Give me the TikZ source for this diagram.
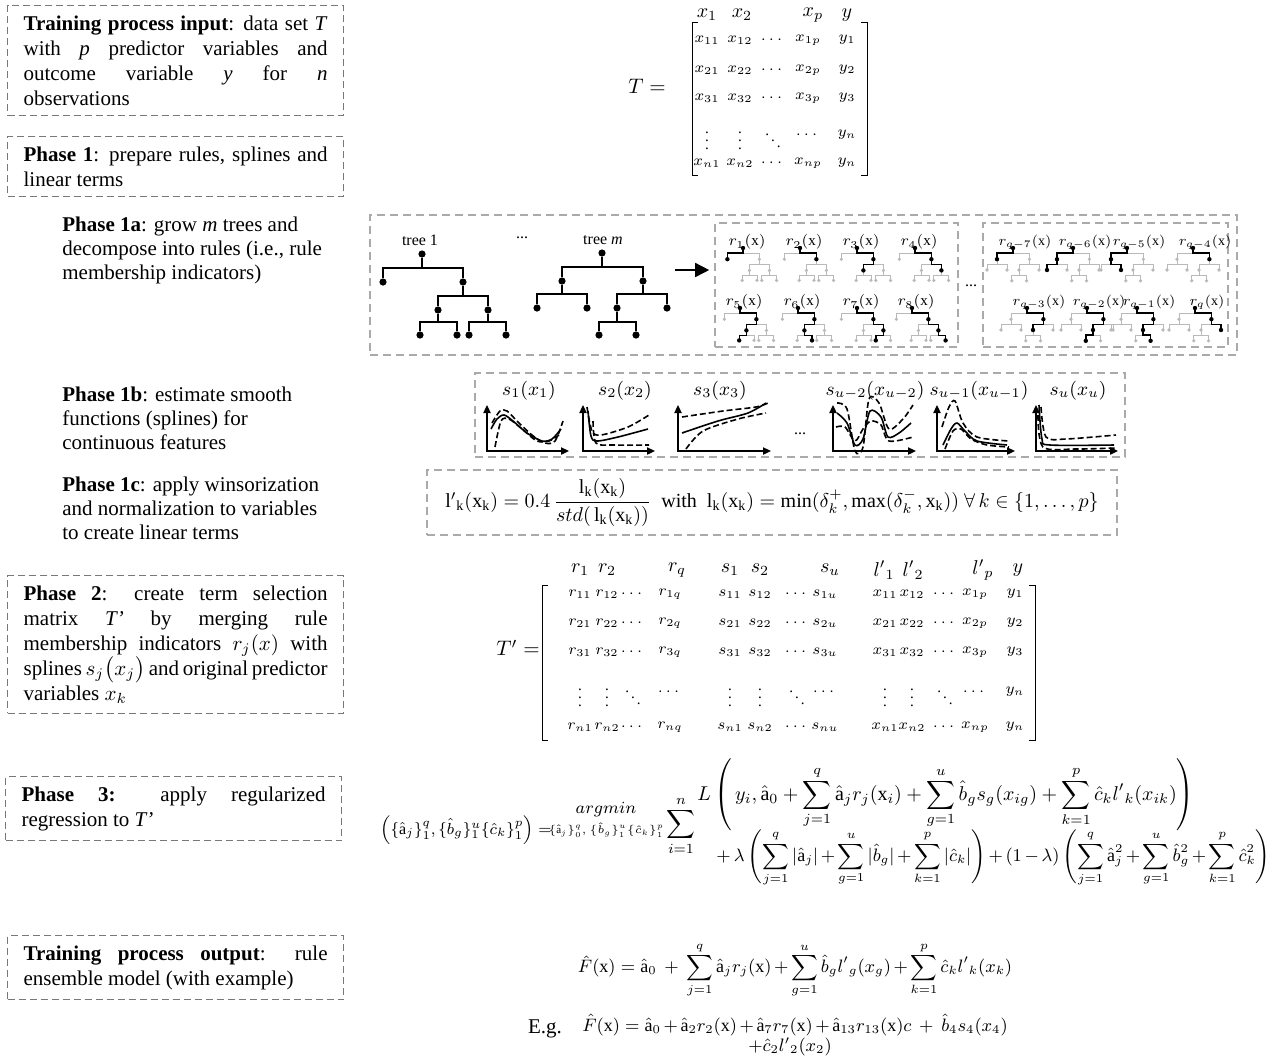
\RequirePackage{fix-cm}
\documentclass[tikz,border=0pt]{standalone}
\usepackage{amsmath}
\usepackage{fontspec}
\setmainfont{Liberation Serif}
\usetikzlibrary{arrows.meta,positioning}
\definecolor{boxgray}{RGB}{120,120,120}
\definecolor{groupgray}{RGB}{170,170,170}
\definecolor{rulegray}{RGB}{185,185,185}
\newcommand\tightmath{\medmuskip=2.5mu\relax}
\tikzset{
  phasebox/.style={draw=boxgray, line width=0.6pt, dash pattern=on 3.5pt off 2pt, anchor=north west,
    text width=152pt, align=justify, inner xsep=8pt, inner ysep=5pt, font=\fontsize{10.5}{12.5}\selectfont},
  phasetext/.style={anchor=north west, inner sep=0pt, align=left, font=\fontsize{10.5}{12}\selectfont},
  groupbox/.style={draw=groupgray, line width=0.8pt, dash pattern=on 4pt off 2.5pt, inner sep=0pt},
  leaf/.style={circle, fill=black, inner sep=0pt, minimum size=3.6pt},
  branch/.style={line width=0.6pt},
  minibranch/.style={rulegray, line width=0.5pt},
  rulestroke/.style={black, line width=0.7pt},
  rulelabel/.style={anchor=south, inner sep=0pt, font=\fontsize{7.5}{9}\selectfont},
  treelabel/.style={inner sep=0pt, font=\fontsize{8}{9.6}\selectfont},
  head/.style={inner sep=0pt, font=\fontsize{10}{12}\selectfont},
  entry/.style={inner sep=0pt, font=\fontsize{7.5}{9}\selectfont},
  formula/.style={inner sep=0pt, font=\fontsize{9}{11}\selectfont\tightmath},
  bracket/.style={line width=0.5pt},
  axis/.style={line width=0.8pt, {Triangle[length=4pt,width=3.6pt]}-{Triangle[length=4pt,width=3.6pt]}},
  spline/.style={line width=0.8pt},
  splineband/.style={line width=0.8pt, dash pattern=on 3pt off 1.5pt},
  % small copy of tree 1
  pics/ruletreeA/.style={code={
    \coordinate (-o) at (0,0);
    \coordinate (-L) at (-15.6,11.2); \coordinate (-R) at (16.4,11.2);
    \coordinate (-RL) at (6.4,22.4); \coordinate (-RR) at (26.4,22.4);
    \coordinate (-RLL) at (-0.8,32.4); \coordinate (-RLR) at (14,32.4);
    \coordinate (-RRL) at (18.8,32.4); \coordinate (-RRR) at (33.6,32.4);
    \draw[minibranch] (-o) -- ++(0,5) -| (-L) (-o) ++(0,5) -| (-R)
      (-R) -- ++(0,5) -| (-RL) (-R) ++(0,5) -| (-RR)
      (-RL) -- ++(0,5) -| (-RLL) (-RL) ++(0,5) -| (-RLR)
      (-RR) -- ++(0,5) -| (-RRL) (-RR) ++(0,5) -| (-RRR);
    \foreach \p in {o,L,R,RL,RR,RLL,RLR,RRL,RRR} \fill[rulegray] (-\p) circle (0.9pt);
  }},
  % small copy of tree m
  pics/ruletreeB/.style={code={
    \coordinate (-o) at (0,0);
    \coordinate (-L) at (-16,11.2); \coordinate (-R) at (16.4,11.2);
    \coordinate (-LL) at (-26,22); \coordinate (-LR) at (-6,22);
    \coordinate (-RL) at (6,22); \coordinate (-RR) at (26,22);
    \coordinate (-RLL) at (-1.2,32.8); \coordinate (-RLR) at (13.6,32.8);
    \draw[minibranch] (-o) -- ++(0,5) -| (-L) (-o) ++(0,5) -| (-R)
      (-L) -- ++(0,5) -| (-LL) (-L) ++(0,5) -| (-LR)
      (-R) -- ++(0,5) -| (-RL) (-R) ++(0,5) -| (-RR)
      (-RL) -- ++(0,5) -| (-RLL) (-RL) ++(0,5) -| (-RLR);
    \foreach \p in {o,L,R,LL,LR,RL,RR,RLL,RLR} \fill[rulegray] (-\p) circle (0.9pt);
  }},
}
% black path of one rule through a small tree
\newcommand\rulepath[2]{%
  \draw[rulestroke] (#1-o) \foreach \p in #2 { -- ++(0,5) -| (#1-\p)};
  \fill (#1-o) circle (1.1pt);
  \foreach \p in #2 \fill (#1-\p) circle (1.1pt);}

\begin{document}
\begin{tikzpicture}[x=0.5pt,y=-0.5pt,every node/.style={font=\fontsize{10.5}{12.5}\selectfont}]
\useasboundingbox (0,0) rectangle (1276,1057);

% left column
\node[phasebox] (input) at (7,5) {\textbf{Training process input}: data set \textit{T}\linebreak with \textit{p} predictor variables and\linebreak outcome variable \textit{y} for \textit{n}\linebreak observations};
\node[phasebox] (phase1) at (7,136) {\textbf{Phase 1}: prepare rules, splines and\linebreak linear terms};
\node[phasetext] (phase1a) at (62,217) {\textbf{Phase 1a}: grow \textit{m} trees and\\decompose into rules (i.e., rule\\membership indicators)};
\node[phasetext] (phase1b) at (62,387) {\textbf{Phase 1b}: estimate smooth\\functions (splines) for\\continuous features};
\node[phasetext] (phase1c) at (62,477) {\textbf{Phase 1c}: apply winsorization\\and normalization to variables\\to create linear terms};
\node[phasebox] (phase2) at (7,575) {\textbf{Phase 2}: create term selection\linebreak matrix \textit{T’} by merging rule\linebreak membership indicators $r_j(x)$ with\linebreak splines $s_j\big(x_j\big)$ and original predictor\linebreak variables $x_k$};
\node[phasebox] (phase3) at (5,776) {\textbf{Phase 3:} apply regularized\linebreak regression to \textit{T’}};
\node[phasebox] (output) at (7,935) {\textbf{Training process output}: rule\linebreak ensemble model (with example)};

% data set T
\node (Tname) at (647,86) {$T =$};
\foreach \cx/\e [count=\c] in {707/x_1,742/x_2,813/x_p,847/y}
  \node[head] (Th\c) at (\cx,15) {$\e$};
\foreach \row/\ry in {1/40,2/70,3/98,n/163}{
  \foreach \cx/\e [count=\c] in {707/x_{\row1},740/x_{\row2},773/\cdots,808/x_{\row p},847/y_{\row}}
    \node[entry] (T-\row-\c) at (\cx,\ry) {$\e$};
}
\foreach \cx/\e [count=\c] in {707/\vdots,740/\vdots,773/\ddots,808/\cdots,847/y_n}
  \node[entry] (T-d-\c) at (\cx,135) {$\e$};
\draw[bracket] (698,22) -- (692,22) -- (692,175) -- (698,175);
\draw[bracket] (861,22) -- (867,22) -- (867,175) -- (861,175);

% phase 1a: trees and rules
\node[groupbox, minimum width=433.5pt, minimum height=70pt] (treebox) at (803.5,285) {};
\node[groupbox, minimum width=121.5pt, minimum height=62pt] (rules1) at (836.5,285) {};
\node[groupbox, minimum width=122.5pt, minimum height=62pt] (rules2) at (1105.5,285) {};
\node[treelabel] (tree1lab) at (420,240) {tree 1};
\node[treelabel] (treedots) at (522,238) {...};
\node[treelabel] (treemlab) at (603,240) {tree \textit{m}};
\node[treelabel] (rulesdots) at (971,286) {...};
% tree 1
\node[leaf] (a) at (422,254) {};
\node[leaf] (aL) at (383,282) {};
\node[leaf] (aR) at (463,282) {};
\node[leaf] (aRL) at (438,310) {};
\node[leaf] (aRR) at (488,310) {};
\node[leaf] (aRLL) at (420,335) {};
\node[leaf] (aRLR) at (457,335) {};
\node[leaf] (aRRL) at (469,335) {};
\node[leaf] (aRRR) at (506,335) {};
\draw[branch] (a) -- ++(0,14) -| (aL) (a) ++(0,14) -| (aR);
\draw[branch] (aR) -- ++(0,14) -| (aRL) (aR) ++(0,14) -| (aRR);
\draw[branch] (aRL) -- ++(0,12) -| (aRLL) (aRL) ++(0,12) -| (aRLR);
\draw[branch] (aRR) -- ++(0,12) -| (aRRL) (aRR) ++(0,12) -| (aRRR);
% tree m
\node[leaf] (b) at (602,253) {};
\node[leaf] (bL) at (562,281) {};
\node[leaf] (bR) at (643,281) {};
\node[leaf] (bLL) at (537,308) {};
\node[leaf] (bLR) at (587,308) {};
\node[leaf] (bRL) at (617,308) {};
\node[leaf] (bRR) at (667,308) {};
\node[leaf] (bRLL) at (599,335) {};
\node[leaf] (bRLR) at (636,335) {};
\draw[branch] (b) -- ++(0,14) -| (bL) (b) ++(0,14) -| (bR);
\draw[branch] (bL) -- ++(0,13) -| (bLL) (bL) ++(0,13) -| (bLR);
\draw[branch] (bR) -- ++(0,13) -| (bRL) (bR) ++(0,13) -| (bRR);
\draw[branch] (bRL) -- ++(0,14) -| (bRLL) (bRL) ++(0,14) -| (bRLR);
\coordinate (arrowstart) at (675,270);
\draw[branch, line width=0.8pt, -{Triangle[length=7pt,width=7pt]}] (arrowstart) -- (arrowstart -| rules1.west) [shorten >=2.5pt];
% rules of tree 1
\foreach \n/\cx/\cy/\route in {1/743/248/{L},2/800/248/{R},3/857/248/{R,RL},4/915/248/{R,RR},
    5/740/308/{R,RL,RLL},6/798/308/{R,RL,RLR},7/857/308/{R,RR,RRL},8/912/308/{R,RR,RRR}}{
  \pic (r\n) at (\cx,\cy) {ruletreeA};
  \rulepath{r\n}{\route}
  \node[rulelabel] (r\n lab) at (\cx+4,\cy+2) {$r_{\n}(\mathrm{x})$};
}
% rules of tree m
\foreach \n/\cx/\cy/\route/\lab in {1/1013/248/{L}/q-7,2/1073/248/{L,LL}/q-6,3/1127/248/{L,LR}/q-5,4/1193/248/{R}/q-4,
    5/1027/308/{R,RL}/q-3,6/1087/308/{R,RL,RLL}/q-2,7/1137/308/{R,RL,RLR}/q-1,8/1195/308/{R,RR}/q}{
  \pic (m\n) at (\cx,\cy) {ruletreeB};
  \rulepath{m\n}{\route}
  \node[rulelabel, font=\fontsize{7}{8}\selectfont] (m\n lab) at (\cx+12,\cy+2) {$r_{\lab}(\mathrm{x})$};
}

% phase 1b: splines
\node[groupbox, minimum width=325pt, minimum height=42pt] (splinebox) at (800,415) {};
\foreach \ox/\len/\lab [count=\i] in {487/82/s_1(x_1),583/72/s_2(x_2),678/93/s_3(x_3),833/83/s_{u-2}(x_{u-2}),937/78/s_{u-1}(x_{u-1}),1036/82/s_u(x_u)}{
  \draw[axis] (\ox,405) |- (\ox+\len,451);
  \node[head, font=\fontsize{9.5}{11}\selectfont] (slab\i) at (\ox+42,391) {$\lab$};
}
\node[treelabel] (splinedots) at (800,434) {...};
\begin{scope}[shift={(487,451)},yscale=-1]
\draw[spline] plot[smooth] coordinates {(4,22) (10,32) (17,36) (26,30) (40,18) (55,10) (65,12) (74,22)};
\draw[splineband] plot[smooth] coordinates {(5,28) (13,40) (20,40) (30,30) (45,16) (58,8) (68,10) (76,30)};
\draw[splineband] plot[smooth] coordinates {(8,4) (14,30) (22,32) (35,22) (50,10) (62,10) (72,16)};
\end{scope}
\begin{scope}[shift={(583,451)},yscale=-1]
\draw[spline] plot[smooth] coordinates {(5,40) (8,15) (14,10) (35,14) (65,22)};
\draw[splineband] plot[smooth] coordinates {(4,44) (9,20) (18,16) (45,24) (66,36)};
\draw[splineband] plot[smooth] coordinates {(10,30) (13,8) (30,6) (66,6)};
\end{scope}
\begin{scope}[shift={(678,451)},yscale=-1]
\draw[spline] plot[smooth] coordinates {(4,18) (40,30) (70,38) (88,48)};
\draw[splineband] plot[smooth] coordinates {(4,34) (45,40) (78,44) (90,48)};
\draw[splineband] plot[smooth] coordinates {(8,2) (25,20) (60,32) (88,38)};
\end{scope}
\begin{scope}[shift={(833,451)},yscale=-1]
\draw[spline] plot[smooth] coordinates {(4,38) (14,28) (22,6) (30,12) (37,40) (48,34) (55,14) (66,18) (78,28)};
\draw[splineband] plot[smooth] coordinates {(4,48) (14,42) (22,0) (30,4) (36,52) (46,48) (56,22) (70,32) (80,46)};
\draw[splineband] plot[smooth] coordinates {(3,24) (12,24) (22,10) (30,22) (38,30) (48,26) (56,10) (80,14)};
\end{scope}
\begin{scope}[shift={(937,451)},yscale=-1]
\draw[spline] plot[smooth] coordinates {(6,6) (14,22) (20,28) (28,20) (40,10) (70,6)};
\draw[splineband] plot[smooth] coordinates {(5,24) (12,44) (18,50) (26,28) (40,14) (72,10)};
\draw[splineband] plot[smooth] coordinates {(8,2) (16,20) (24,22) (34,12) (50,6) (72,4)};
\end{scope}
\begin{scope}[shift={(1036,451)},yscale=-1]
\draw[spline] plot[smooth] coordinates {(3,46) (6,12) (14,6) (78,6)};
\draw[splineband] plot[smooth] coordinates {(5,44) (10,14) (30,12) (80,16)};
\draw[splineband] plot[smooth] coordinates {(2,36) (7,4) (40,2) (80,3)};
\end{scope}

% phase 1c: linear terms
\node[groupbox, minimum width=345pt, minimum height=32.5pt, font=\fontsize{10}{12}\selectfont] (linear) at (772,502.5)
  {${\mathrm{l}'}_{\mathrm{k}}(\mathrm{x_k}) = 0.4\,\dfrac{\mathrm{l_k(x_k)}}{std(\,\mathrm{l_k(x_k)})}$\ \ with\ \ $\mathrm{l_k(x_k)} = \min(\delta_k^+, \max(\delta_k^-, \mathrm{x_k}))\ \forall\, k \in \{1, \dots, p\}$};

% phase 2: term selection matrix
\node (Tpname) at (518,648) {$T' =$};
\foreach \cx/\e [count=\c] in {580/r_1,607/r_2,677/r_q,730/s_1,760/s_2,830/s_u,884/{l'}_1,913/{l'}_2,983/{l'}_p,1018/y}
  \node[head] (Tph\c) at (\cx,570) {$\e$};
\foreach \row/\ry in {1/594,2/623,3/652,n/727}{
  \foreach \cx/\e [count=\c] in {580/r_{\row1},607/r_{\row2},633/\cdots,670/r_{\row q},730/s_{\row1},760/s_{\row2},797/\cdots,825/s_{\row u},885/x_{\row1},912/x_{\row2},945/\cdots,975/x_{\row p},1015/y_{\row}}
    \node[entry] (Tp-\row-\c) at (\cx,\ry) {$\e$};
}
\foreach \cx/\e [count=\c] in {580/\vdots,607/\vdots,633/\ddots,670/\cdots,730/\vdots,760/\vdots,797/\ddots,825/\cdots,885/\vdots,912/\vdots,945/\ddots,975/\cdots,1015/y_n}
  \node[entry] (Tp-d-\c) at (\cx,692) {$\e$};
\draw[bracket] (548,585) -- (542,585) -- (542,740) -- (548,740);
\draw[bracket] (1029,585) -- (1035,585) -- (1035,740) -- (1029,740);

% phase 3: regularized regression
\node[formula, font=\fontsize{8}{10}\selectfont] (lhs) at (466,830) {$\Big(\{\hat{\mathrm{a}}_j\}_1^q,\{\hat b_g\}_1^u\{\hat c_k\}_1^p\Big) =$};
\node[formula, font=\fontsize{8.5}{10}\selectfont] (argmin) at (606,810) {$argmin$};
\node[formula, font=\fontsize{5.5}{7}\selectfont] (argset) at (606,830) {$\{\hat{\mathrm{a}}_j\}_0^q,\{\hat b_g\}_1^u\{\hat c_k\}_1^p$};
\node[formula, font=\fontsize{10}{12}\selectfont] (sumi) at (681,826) {$\displaystyle\sum_{i=1}^{n}$};
\node[formula, font=\fontsize{10}{12}\selectfont, anchor=west] (loss) at (697,795) {$\displaystyle L\left(\,y_i, \hat{\mathrm{a}}_0 + \sum_{j=1}^{q}\hat{\mathrm{a}}_j r_j(\mathrm{x}_i) + \sum_{g=1}^{u}\hat b_g s_g(x_{ig}) + \sum_{k=1}^{p}\hat c_k {l'}_k(x_{ik})\right)$};
\node[formula, anchor=west] (penalty) at (716,858) {$\displaystyle +\,\lambda\left(\sum_{j=1}^{q}|\hat{\mathrm{a}}_j| + \sum_{g=1}^{u}|\hat b_g| + \sum_{k=1}^{p}|\hat c_k|\right) + (1-\lambda)\left(\sum_{j=1}^{q}\hat{\mathrm{a}}_j^2 + \sum_{g=1}^{u}\hat b_g^2 + \sum_{k=1}^{p}\hat c_k^2\right)$};

% output: rule ensemble model
\node[formula] (model) at (795,970) {$\displaystyle\hat F(\mathrm{x}) = \hat{\mathrm{a}}_0 \;+\; \sum_{j=1}^{q}\hat{\mathrm{a}}_j r_j(\mathrm{x}) + \sum_{g=1}^{u}\hat b_g {l'}_g(x_g) + \sum_{k=1}^{p}\hat c_k {l'}_k(x_k)$};
\node (eg) at (545,1029) {E.g.};
\node[formula] (example) at (795,1025) {$\hat F(\mathrm{x}) = \hat{\mathrm{a}}_0 + \hat{\mathrm{a}}_2 r_2(\mathrm{x}) + \hat{\mathrm{a}}_7 r_7(\mathrm{x}) + \hat{\mathrm{a}}_{13} r_{13}(\mathrm{x})c \;+\; \hat b_4 s_4(x_4)$};
\node[formula] (example2) at (790,1047) {$+\hat c_2 {l'}_2(x_2)$};
\end{tikzpicture}
\end{document}
